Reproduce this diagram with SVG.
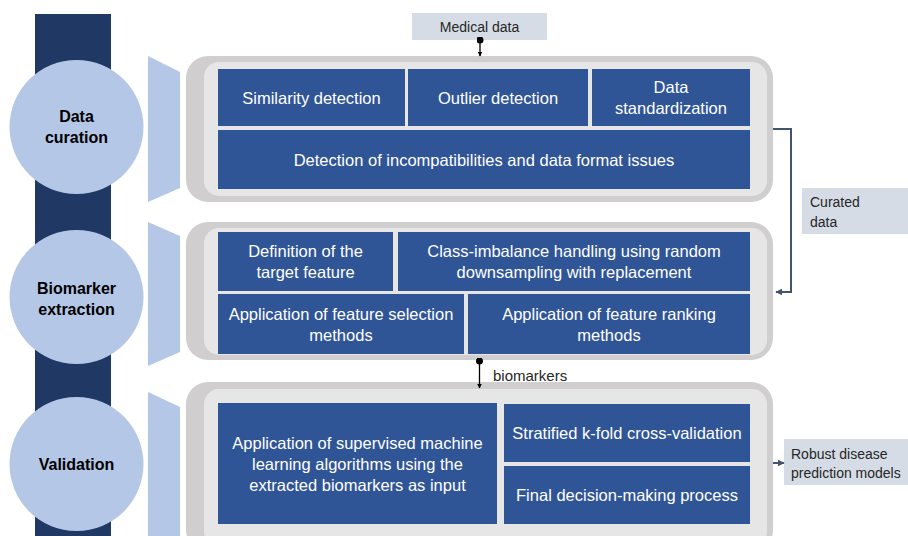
<svg xmlns="http://www.w3.org/2000/svg" width="908" height="536" viewBox="0 0 908 536">
<defs>
<style>
.bar{fill:#203864}
.circ{fill:#b4c7e7}
.trap{fill:#b4c7e7}
.pout{fill:#d0cece}
.pin{fill:#e7e6e6}
.box{fill:#2f5597}
.lbl{fill:#d6dce5}
.t{font-family:"Liberation Sans",Arial,sans-serif;font-size:16.5px;fill:#ffffff;text-anchor:middle;dominant-baseline:central}
.c{font-family:"Liberation Sans",Arial,sans-serif;font-size:16px;font-weight:bold;fill:#000000;text-anchor:middle;dominant-baseline:central}
.k{font-family:"Liberation Sans",Arial,sans-serif;font-size:14px;fill:#262626;dominant-baseline:central}
.ln{fill:none;stroke:#000000;stroke-width:1.3}
.ln2{fill:none;stroke:#44546a;stroke-width:2}
</style>
<marker id="ah" viewBox="0 0 10 10" refX="9" refY="5" markerWidth="5" markerHeight="5" orient="auto-start-reverse" markerUnits="userSpaceOnUse"><path d="M0,0 L10,5 L0,10 z" fill="#000"/></marker>
<marker id="ah2" viewBox="0 0 10 10" refX="9" refY="5" markerWidth="7" markerHeight="7" orient="auto" markerUnits="userSpaceOnUse"><path d="M0,0 L10,5 L0,10 z" fill="#44546a"/></marker>
<marker id="dot" viewBox="0 0 10 10" refX="5" refY="5" markerWidth="7" markerHeight="7" markerUnits="userSpaceOnUse"><circle cx="5" cy="5" r="5" fill="#000"/></marker>
</defs>
<rect width="908" height="536" fill="#ffffff"/>
<rect class="bar" x="35" y="14" width="76" height="522"/>

<g id="stage-data-curation">
<circle class="circ" cx="76.5" cy="127" r="67"/>
<text class="c" x="76.5" y="116">Data</text>
<text class="c" x="76.5" y="137">curation</text>
<polygon class="trap" points="148,56 180,72 180,188 148,202"/>
</g>
<g id="stage-biomarker-extraction">
<circle class="circ" cx="76.5" cy="297" r="67"/>
<text class="c" x="76.5" y="288">Biomarker</text>
<text class="c" x="76.5" y="309">extraction</text>
<polygon class="trap" points="148,222 180,236 180,352 148,366"/>
</g>
<g id="stage-validation">
<circle class="circ" cx="76.5" cy="464" r="67"/>
<text class="c" x="76.5" y="464">Validation</text>
<polygon class="trap" points="148,392 180,407 180,540 148,540"/>
</g>

<g id="panel-data-curation">
<rect class="pout" x="186" y="56" width="587" height="146" rx="22"/>
<rect class="pin" x="204" y="62" width="563" height="134" rx="15"/>
</g>
<g id="panel-biomarker">
<rect class="pout" x="186" y="222" width="587" height="138" rx="22"/>
<rect class="pin" x="204" y="228" width="563" height="127" rx="15"/>
</g>
<g id="panel-validation">
<rect class="pout" x="186" y="382" width="587" height="170" rx="22"/>
<rect class="pin" x="204" y="389" width="563" height="157" rx="15"/>
</g>

<g id="similarity-detection"><rect class="box" x="218" y="69" width="187" height="57"/><text class="t" x="311.5" y="97.5">Similarity detection</text></g>
<g id="outlier-detection"><rect class="box" x="408" y="69" width="180" height="57"/><text class="t" x="498" y="97.5">Outlier detection</text></g>
<g id="data-standardization"><rect class="box" x="592" y="69" width="158" height="57"/><text class="t" x="671" y="87">Data</text><text class="t" x="671" y="108">standardization</text></g>
<g id="incompatibilities"><rect class="box" x="218" y="130" width="532" height="59"/><text class="t" x="484" y="159.5">Detection of incompatibilities and data format issues</text></g>

<g id="target-feature"><rect class="box" x="218" y="232" width="175" height="59"/><text class="t" x="305.5" y="251">Definition of the</text><text class="t" x="305.5" y="272">target feature</text></g>
<g id="class-imbalance"><rect class="box" x="398" y="232" width="352" height="59"/><text class="t" x="574" y="251">Class-imbalance handling using random</text><text class="t" x="574" y="272">downsampling with replacement</text></g>
<g id="feature-selection"><rect class="box" x="218" y="294" width="246" height="60"/><text class="t" x="341" y="314">Application of feature selection</text><text class="t" x="341" y="335">methods</text></g>
<g id="feature-ranking"><rect class="box" x="468" y="294" width="282" height="60"/><text class="t" x="609" y="314">Application of feature ranking</text><text class="t" x="609" y="335">methods</text></g>

<g id="supervised-ml"><rect class="box" x="218" y="403" width="279" height="121"/><text class="t" x="357.5" y="443">Application of supervised machine</text><text class="t" x="357.5" y="464">learning algorithms using the</text><text class="t" x="357.5" y="485">extracted biomarkers as input</text></g>
<g id="stratified-kfold"><rect class="box" x="504" y="404" width="246" height="58"/><text class="t" x="627" y="433">Stratified k-fold cross-validation</text></g>
<g id="final-decision"><rect class="box" x="504" y="466" width="246" height="58"/><text class="t" x="627" y="495">Final decision-making process</text></g>

<g id="medical-data"><rect class="lbl" x="412" y="13" width="135" height="27"/><text class="k" x="479.5" y="27" text-anchor="middle">Medical data</text></g>
<g id="curated-data"><rect class="lbl" x="802" y="188" width="106" height="46"/><text class="k" x="810" y="202">Curated</text><text class="k" x="810" y="222">data</text></g>
<g id="robust-models"><rect class="lbl" x="784" y="439" width="124" height="46"/><text class="k" x="791" y="454">Robust disease</text><text class="k" x="791" y="473">prediction models</text></g>
<text class="k" x="493" y="375" style="font-size:15px">biomarkers</text>

<g id="connectors">
<line class="ln" x1="480" y1="40" x2="480" y2="56" marker-start="url(#dot)" marker-end="url(#ah)"/>
<polyline class="ln2" points="773,129 791,129 791,292 776,292" marker-end="url(#ah2)"/>
<line class="ln" x1="479.5" y1="361" x2="479.5" y2="388" marker-start="url(#dot)" marker-end="url(#ah)"/>
<line class="ln2" x1="773" y1="463" x2="784" y2="463" marker-end="url(#ah2)"/>
</g>
</svg>
